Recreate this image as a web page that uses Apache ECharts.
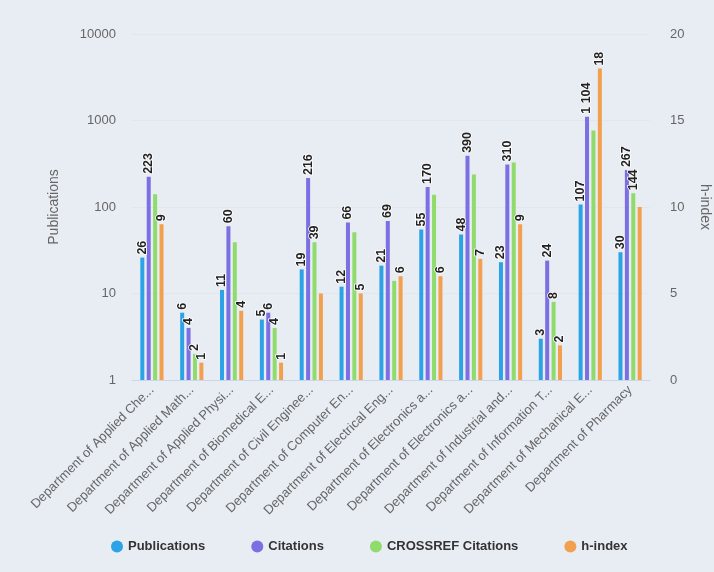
<!DOCTYPE html>
<html>
<head>
<meta charset="utf-8">
<script src="https://cdn.jsdelivr.net/npm/echarts@6/dist/echarts.min.js"></script>
<style>
html,body{margin:0;padding:0;background:#e8ecf3;}
#chart{width:714px;height:572px;}
</style>
</head>
<body>
<div id="chart"></div>
<script>
const categories = [
  "Department of Applied Chemistry",
  "Department of Applied Mathematics",
  "Department of Applied Physics",
  "Department of Biomedical Engineering",
  "Department of Civil Engineering",
  "Department of Computer Engineering",
  "Department of Electrical Engineering",
  "Department of Electronics and Communication Engineering",
  "Department of Electronics and Instrumentation Engineering",
  "Department of Industrial and Production Engineering",
  "Department of Information Technology",
  "Department of Mechanical Engineering",
  "Department of Pharmacy"
];
const publications = [26, 6, 11, 5, 19, 12, 21, 55, 48, 23, 3, 107, 30];
const citations = [223, 4, 60, 6, 216, 66, 69, 170, 390, 310, 24, 1104, 267];
const crossrefCitations = [140, 2, 39, 4, 39, 51, 14, 139, 238, 326, 8, 766, 144];
const hIndex = [9, 1, 4, 1, 5, 5, 6, 6, 7, 9, 2, 18, 10];
const leftTicks = [1, 10, 100, 1000, 10000];
const rightTicks = [0, 5, 10, 15, 20];

// label visibility (styling)
const crossrefLabelShown = [false,true,false,true,true,false,false,false,false,false,true,false,true];
const hIndexLabelShown = [true,true,true,true,false,true,true,true,true,true,true,true,false];

const fmt = v => String(v).replace(/\B(?=(\d{3})+(?!\d))/g, ' ');
const FONT = '"Liberation Sans", Arial, Helvetica, sans-serif';
const baseLabel = {
  show: true, position: 'top', rotate: 90, align: 'left', verticalAlign: 'middle',
  distance: 3, fontSize: 12.5, fontWeight: 'bold', color: '#222', fontFamily: FONT,
  textBorderColor: '#ffffff', textBorderWidth: 1.5,
  formatter: p => fmt(p.value)
};
function withLabels(values, shown) {
  return values.map((v, i) => shown ? (shown[i] ? v : { value: v, label: { show: false } }) : v);
}

const chart = echarts.init(document.getElementById('chart'), null, { renderer: 'canvas' });
const barCommon = { type: 'bar', barWidth: 4, barGap: '60%', label: baseLabel };
chart.setOption({
  backgroundColor: '#e8ecf3',
  animation: false,
  textStyle: { fontFamily: FONT },
  grid: { left: 132, right: 64, top: 34, bottom: 192, containLabel: false, outerBoundsMode: 'none' },
  legend: {
    bottom: 14, left: 106, itemGap: 46, itemWidth: 12, itemHeight: 12, icon: 'circle',
    textStyle: { fontSize: 13, fontWeight: 'bold', color: '#333', fontFamily: FONT },
    data: ['Publications', 'Citations', 'CROSSREF Citations', 'h-index']
  },
  xAxis: {
    type: 'category', data: categories,
    axisLine: { show: true, lineStyle: { color: '#ccd6eb' } },
    axisTick: { show: false },
    axisLabel: {
      interval: 0, rotate: 45, fontSize: 13, color: '#666', margin: 8,
      width: 178, overflow: 'truncate', fontFamily: FONT
    }
  },
  yAxis: [
    {
      type: 'log', logBase: 10, min: leftTicks[0], max: leftTicks[leftTicks.length - 1],
      name: 'Publications', nameLocation: 'middle', nameGap: 71, nameRotate: 90,
      nameTextStyle: { color: '#666', fontSize: 14 },
      axisLine: { show: false }, axisTick: { show: false },
      axisLabel: { color: '#666', fontSize: 13, margin: 16, formatter: v => String(v) },
      splitLine: { show: true, lineStyle: { color: '#e2e6ed' } }
    },
    {
      type: 'value', min: rightTicks[0], max: rightTicks[rightTicks.length - 1], interval: 5,
      name: 'h-index', nameLocation: 'middle', nameGap: 48, nameRotate: -90,
      nameTextStyle: { color: '#666', fontSize: 14 },
      axisLine: { show: false }, axisTick: { show: false },
      axisLabel: { color: '#666', fontSize: 13, margin: 20 },
      splitLine: { show: false }
    }
  ],
  series: [
    Object.assign({}, barCommon, { name: 'Publications', itemStyle: { color: '#2ba3e6' }, data: withLabels(publications) }),
    Object.assign({}, barCommon, { name: 'Citations', itemStyle: { color: '#7b6fe3' }, data: withLabels(citations) }),
    Object.assign({}, barCommon, { name: 'CROSSREF Citations', itemStyle: { color: '#8fdc6c' }, data: withLabels(crossrefCitations, crossrefLabelShown) }),
    Object.assign({}, barCommon, { name: 'h-index', yAxisIndex: 1, itemStyle: { color: '#f2a04e' }, data: withLabels(hIndex, hIndexLabelShown) })
  ]
});
</script>
</body>
</html>
